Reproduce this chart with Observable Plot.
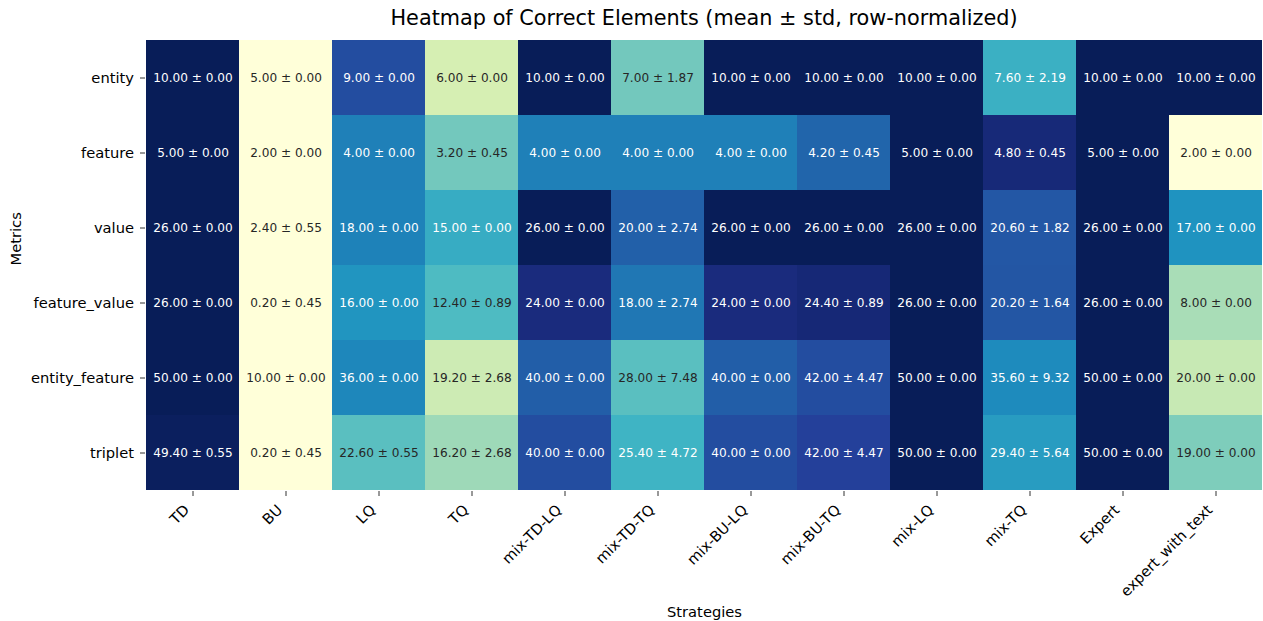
<!DOCTYPE html>
<html>
<head>
<meta charset="utf-8">
<script src="https://cdn.jsdelivr.net/npm/d3@7"></script>
<script src="https://cdn.jsdelivr.net/npm/@observablehq/plot@0.6"></script>
<style>
  body { margin: 0; background: #fff; font-family: "DejaVu Sans", sans-serif; }
  #title { height: 38px; line-height: 36px; padding-left: 145px; width: 1118px; text-align: center; font-size: 20.8px; color: #000; white-space: nowrap; }
  #chart svg { display: block; }
</style>
</head>
<body>
<div id="title">Heatmap of Correct Elements (mean ± std, row-normalized)</div>
<div id="chart"></div>
<script>
const strategies = ["TD", "BU", "LQ", "TQ", "mix-TD-LQ", "mix-TD-TQ", "mix-BU-LQ", "mix-BU-TQ", "mix-LQ", "mix-TQ", "Expert", "expert_with_text"];
const metrics = ["entity", "feature", "value", "feature_value", "entity_feature", "triplet"];

const meanEntity        = [10.00, 5.00, 9.00, 6.00, 10.00, 7.00, 10.00, 10.00, 10.00, 7.60, 10.00, 10.00];
const stdEntity         = [0.00, 0.00, 0.00, 0.00, 0.00, 1.87, 0.00, 0.00, 0.00, 2.19, 0.00, 0.00];
const meanFeature       = [5.00, 2.00, 4.00, 3.20, 4.00, 4.00, 4.00, 4.20, 5.00, 4.80, 5.00, 2.00];
const stdFeature        = [0.00, 0.00, 0.00, 0.45, 0.00, 0.00, 0.00, 0.45, 0.00, 0.45, 0.00, 0.00];
const meanValue         = [26.00, 2.40, 18.00, 15.00, 26.00, 20.00, 26.00, 26.00, 26.00, 20.60, 26.00, 17.00];
const stdValue          = [0.00, 0.55, 0.00, 0.00, 0.00, 2.74, 0.00, 0.00, 0.00, 1.82, 0.00, 0.00];
const meanFeatureValue  = [26.00, 0.20, 16.00, 12.40, 24.00, 18.00, 24.00, 24.40, 26.00, 20.20, 26.00, 8.00];
const stdFeatureValue   = [0.00, 0.45, 0.00, 0.89, 0.00, 2.74, 0.00, 0.89, 0.00, 1.64, 0.00, 0.00];
const meanEntityFeature = [50.00, 10.00, 36.00, 19.20, 40.00, 28.00, 40.00, 42.00, 50.00, 35.60, 50.00, 20.00];
const stdEntityFeature  = [0.00, 0.00, 0.00, 2.68, 0.00, 7.48, 0.00, 4.47, 0.00, 9.32, 0.00, 0.00];
const meanTriplet       = [49.40, 0.20, 22.60, 16.20, 40.00, 25.40, 40.00, 42.00, 50.00, 29.40, 50.00, 19.00];
const stdTriplet        = [0.55, 0.45, 0.55, 2.68, 0.00, 4.72, 0.00, 4.47, 0.00, 5.64, 0.00, 0.00];

const means = [meanEntity, meanFeature, meanValue, meanFeatureValue, meanEntityFeature, meanTriplet];
const stds = [stdEntity, stdFeature, stdValue, stdFeatureValue, stdEntityFeature, stdTriplet];

// matplotlib YlGnBu (ColorBrewer 9-class)
const ylgnbu = ["#ffffd9", "#edf8b1", "#c7e9b4", "#7fcdbb", "#41b6c4", "#1d91c0", "#225ea8", "#253494", "#081d58"];
const interp = d3.piecewise(d3.interpolateRgb, ylgnbu);

function luminance(c) {
  const rgb = d3.rgb(c);
  const lin = [rgb.r, rgb.g, rgb.b].map(v => {
    v /= 255;
    return v <= 0.03928 ? v / 12.92 : Math.pow((v + 0.055) / 1.055, 2.4);
  });
  return 0.2126 * lin[0] + 0.7152 * lin[1] + 0.0722 * lin[2];
}

const data = [];
metrics.forEach((m, i) => {
  const row = means[i];
  const lo = d3.min(row), hi = d3.max(row);
  row.forEach((v, j) => {
    const norm = hi > lo ? (v - lo) / (hi - lo) : 0;
    data.push({
      metric: m,
      strategy: strategies[j],
      norm,
      label: `${v.toFixed(2)} ± ${stds[i][j].toFixed(2)}`,
      textColor: luminance(interp(norm)) > 0.408 ? "#262626" : "#ffffff"
    });
  });
});

const plot = Plot.plot({
  width: 1263,
  height: 583,
  marginTop: 1,
  marginLeft: 145,
  marginRight: 0,
  marginBottom: 130,
  style: { fontFamily: "DejaVu Sans, sans-serif", fontSize: "14.7px", color: "#000", background: "#fff" },
  x: { domain: strategies, padding: 0, label: null },
  y: { domain: metrics, padding: 0, label: null },
  color: { type: "linear", domain: d3.range(9).map(i => i / 8), range: ylgnbu, interpolate: "rgb" },
  marks: [
    Plot.cell(data, { x: "strategy", y: "metric", fill: "norm" }),
    Plot.text(data, { x: "strategy", y: "metric", text: "label", fill: "textColor", fontSize: 12.1 }),
    Plot.axisY({ tickSize: 5, tickPadding: 6.5, fontSize: 14.7, label: null, stroke: "#333", fill: "#000" }),
    Plot.axisX({ tickSize: 5, label: null, text: null, stroke: "#333" }),
    Plot.text(strategies, { x: d => d, frameAnchor: "bottom", text: d => d, rotate: -45, textAnchor: "end", lineAnchor: "middle", dx: -6, dy: 16, fontSize: 14.7, fill: "#000" }),
    Plot.text(["Strategies"], { frameAnchor: "bottom", text: d => d, dy: 125, fontSize: 14.7, fill: "#000" }),
    Plot.text(["Metrics"], { frameAnchor: "left", text: d => d, rotate: -90, dx: -129, fontSize: 14.7, fill: "#000" })
  ]
});
document.getElementById("chart").appendChild(plot);
</script>
</body>
</html>
